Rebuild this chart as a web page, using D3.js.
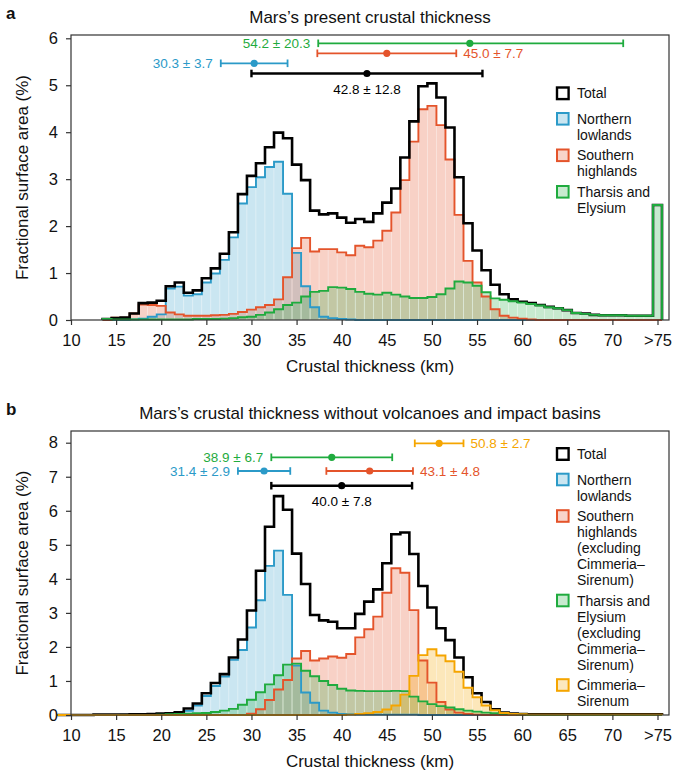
<!DOCTYPE html>
<html>
<head>
<meta charset="utf-8">
<script src="https://cdn.jsdelivr.net/npm/d3@7"></script>
<style>
  body { margin: 0; background: #fff; }
  svg { font-family: "Liberation Sans", Arial, Helvetica, sans-serif; }
</style>
</head>
<body>
<div id="chart"></div>
<script>
// 1 km bins centred on whole km, last bin is ">75"
const xTicks = [10, 15, 20, 25, 30, 35, 40, 45, 50, 55, 60, 65, 70, 75];

// ---- panel a: present crustal thickness (bins 14..75)
const binsA = d3.range(14, 76);
const totalA = [0.02, 0.04, 0.05, 0.14, 0.36, 0.37, 0.41, 0.72, 0.80, 0.58,
  0.63, 0.89, 1.10, 1.41, 1.87, 2.68, 3.07, 3.34, 3.68, 3.99,
  3.87, 3.31, 2.98, 2.33, 2.25, 2.27, 2.18, 2.07, 2.15, 2.09,
  2.27, 2.50, 2.80, 3.46, 4.23, 4.98, 5.04, 4.74, 4.10, 3.04,
  2.06, 1.48, 1.06, 0.75, 0.55, 0.44, 0.39, 0.36, 0.32, 0.28,
  0.25, 0.21, 0.15, 0.14, 0.11, 0.10, 0.10, 0.10, 0.09, 0.09,
  0.09, 2.45];
const northA = [0, 0, 0, 0.01, 0.03, 0.07, 0.12, 0.67, 0.71, 0.52,
  0.55, 0.80, 0.99, 1.28, 1.76, 2.48, 2.83, 3.04, 3.26, 3.37,
  2.69, 1.43, 0.72, 0.27, 0.07, 0.04, 0.02, 0.01, 0, 0,
  0, 0, 0, 0, 0, 0, 0, 0, 0, 0,
  0, 0, 0, 0, 0, 0, 0, 0, 0, 0,
  0, 0, 0, 0, 0, 0, 0, 0, 0, 0,
  0, 0];
const southA = [0, 0.05, 0.05, 0.14, 0.33, 0.32, 0.30, 0.16, 0.12, 0.09,
  0.09, 0.09, 0.10, 0.11, 0.13, 0.17, 0.22, 0.27, 0.32, 0.44,
  0.91, 1.53, 1.75, 1.46, 1.51, 1.51, 1.44, 1.38, 1.58, 1.55,
  1.69, 1.90, 2.29, 2.98, 3.80, 4.49, 4.56, 4.15, 3.42, 2.24,
  1.26, 0.80, 0.50, 0.23, 0.09, 0.05, 0.03, 0.01, 0, 0,
  0, 0, 0, 0, 0, 0, 0, 0, 0, 0,
  0, 0];
const tharsisA = [0.02, 0.01, 0.01, 0.01, 0.01, 0.01, 0.01, 0.01, 0.01, 0.01,
  0.02, 0.02, 0.02, 0.03, 0.04, 0.06, 0.07, 0.11, 0.16, 0.23,
  0.32, 0.37, 0.50, 0.60, 0.62, 0.70, 0.69, 0.66, 0.60, 0.56,
  0.54, 0.58, 0.54, 0.50, 0.47, 0.47, 0.49, 0.55, 0.67, 0.82,
  0.80, 0.73, 0.59, 0.46, 0.43, 0.40, 0.37, 0.34, 0.31, 0.27,
  0.25, 0.21, 0.15, 0.13, 0.11, 0.10, 0.10, 0.10, 0.09, 0.09,
  0.09, 2.45];

// error bars, panel a (order: total, north, south, tharsis)
const errKeysA = ["total", "north", "south", "tharsis"];
const errMeanA = [42.8, 30.3, 45.0, 54.2];
const errSdA = [12.8, 3.7, 7.7, 20.3];
const errLoA = [30.0, 26.6, 37.3, 37.4];
const errHiA = [55.6, 34.0, 52.7, 71.2];

// ---- panel b: without volcanoes and impact basins (bins 9..75)
const binsB = d3.range(9, 76);
const totalB = [0, 0, 0, 0, 0.01, 0.01, 0.01, 0.01, 0.02, 0.02,
  0.03, 0.04, 0.05, 0.08, 0.19, 0.34, 0.64, 0.94, 1.20, 1.69,
  2.22, 3.07, 4.24, 5.53, 6.43, 6.03, 4.74, 3.85, 2.94, 2.78,
  2.74, 2.55, 2.55, 2.97, 3.33, 3.69, 4.46, 5.31, 5.36, 4.73,
  3.79, 3.16, 2.55, 2.20, 1.69, 1.11, 0.64, 0.38, 0.17, 0.07,
  0.04, 0.03, 0.02, 0.02, 0.02, 0.02, 0.02, 0.02, 0.02, 0.02,
  0.02, 0.02, 0.02, 0.02, 0.02, 0.02, 0.02];
const northB = [0, 0, 0, 0, 0, 0, 0, 0.01, 0.01, 0.01,
  0.01, 0.02, 0.03, 0.05, 0.12, 0.28, 0.56, 0.85, 1.13, 1.62,
  1.91, 2.57, 3.37, 4.38, 4.83, 3.53, 1.45, 0.66, 0.36, 0.13,
  0.07, 0.03, 0.02, 0.01, 0.01, 0.01, 0.01, 0.01, 0.01, 0.01,
  0, 0, 0, 0, 0, 0, 0, 0, 0, 0,
  0, 0, 0, 0, 0, 0, 0, 0, 0, 0,
  0, 0, 0, 0, 0, 0, 0];
const southB = [0, 0, 0, 0, 0, 0, 0, 0, 0, 0,
  0, 0, 0, 0, 0, 0, 0, 0, 0, 0,
  0, 0.04, 0.17, 0.44, 0.75, 1.03, 1.66, 1.88, 1.60, 1.66,
  1.72, 1.68, 1.79, 2.28, 2.52, 2.89, 3.59, 4.31, 4.18, 3.08,
  1.60, 0.95, 0.38, 0.16, 0.07, 0.03, 0.01, 0, 0, 0,
  0, 0, 0, 0, 0, 0, 0, 0, 0, 0,
  0, 0, 0, 0, 0, 0, 0];
const tharsisB = [0, 0, 0, 0, 0, 0, 0, 0, 0, 0,
  0, 0.01, 0.02, 0.03, 0.04, 0.05, 0.06, 0.09, 0.13, 0.18,
  0.30, 0.45, 0.67, 0.90, 1.17, 1.48, 1.51, 1.30, 1.14, 1.00,
  0.88, 0.77, 0.72, 0.71, 0.70, 0.70, 0.70, 0.71, 0.70, 0.54,
  0.40, 0.32, 0.26, 0.22, 0.17, 0.13, 0.10, 0.07, 0.05, 0.03,
  0.02, 0.01, 0, 0, 0, 0, 0, 0, 0, 0,
  0, 0, 0, 0, 0, 0, 0];
const cimmeriaB = [0, 0, 0, 0, 0, 0, 0, 0, 0, 0,
  0, 0, 0, 0, 0, 0, 0, 0, 0, 0,
  0, 0, 0, 0, 0, 0, 0, 0, 0, 0,
  0, 0, 0.01, 0.03, 0.05, 0.09, 0.16, 0.28, 0.60, 1.15,
  1.76, 1.93, 1.75, 1.58, 1.27, 0.80, 0.52, 0.28, 0.14, 0.06,
  0.03, 0.02, 0.01, 0.01, 0.01, 0.01, 0.01, 0.01, 0.01, 0.01,
  0.01, 0.01, 0.01, 0.01, 0.01, 0.01, 0.01];

// error bars, panel b (order: total, north, south, tharsis, cimmeria)
const errKeysB = ["total", "north", "south", "tharsis", "cimmeria"];
const errMeanB = [40.0, 31.4, 43.1, 38.9, 50.8];
const errSdB = [7.8, 2.9, 4.8, 6.7, 2.7];
const errLoB = errMeanB.map((m, i) => m - errSdB[i]);
const errHiB = errMeanB.map((m, i) => m + errSdB[i]);

// legend labels
const legendA = [
  ["total", ["Total"]],
  ["north", ["Northern", "lowlands"]],
  ["south", ["Southern", "highlands"]],
  ["tharsis", ["Tharsis and", "Elysium"]]
];
const legendB = [
  ["total", ["Total"]],
  ["north", ["Northern", "lowlands"]],
  ["south", ["Southern", "highlands", "(excluding", "Cimmeria–", "Sirenum)"]],
  ["tharsis", ["Tharsis and", "Elysium", "(excluding", "Cimmeria–", "Sirenum)"]],
  ["cimmeria", ["Cimmeria–", "Sirenum"]]
];

// colours
const col = {
  total: "#000000",
  north: "#2b9ac8",
  south: "#e4542b",
  tharsis: "#1fab3e",
  cimmeria: "#f5a500"
};
const fillOpacity = { north: 0.25, south: 0.27, tharsis: 0.25, cimmeria: 0.27 };

const svg = d3.select("#chart").append("svg")
  .attr("width", 686)
  .attr("height", 773);

const x = d3.scaleLinear().domain([10, 75]).range([71, 657.5]);
const left = 71, right = 669;

function drawPanel(p) {
  const g = svg.append("g");
  const y = d3.scaleLinear().domain([0, p.yMax]).range([p.bottom, p.yTopTick]);

  // fills (one rect per bin, faint white bin edges)
  ["north", "south", "tharsis", "cimmeria"].forEach(key => {
    if (!p.series[key]) return;
    const d = p.bins.map((k, i) => ({ k: k, v: p.series[key][i] })).filter(d => d.v > 0);
    g.append("g").selectAll("rect")
      .data(d)
      .enter().append("rect")
      .attr("x", d => x(d.k - 0.5))
      .attr("width", d => x(d.k + 0.5) - x(d.k - 0.5))
      .attr("y", d => y(d.v))
      .attr("height", d => y(0) - y(d.v))
      .attr("fill", col[key])
      .attr("fill-opacity", fillOpacity[key])
      .attr("stroke", "#fff")
      .attr("stroke-opacity", 0.45)
      .attr("stroke-width", 0.6);
  });

  // step outlines
  const line = d3.line().x(d => x(d[0])).y(d => y(d[1]));
  ["north", "south", "total", "tharsis", "cimmeria"].forEach(key => {
    const vals = p.series[key];
    if (!vals) return;
    const pts = [[p.bins[0] - 0.5, 0]];
    p.bins.forEach((k, i) => { pts.push([k - 0.5, vals[i]]); pts.push([k + 0.5, vals[i]]); });
    pts.push([p.bins[p.bins.length - 1] + 0.5, 0]);
    g.append("path")
      .attr("d", line(pts))
      .attr("fill", "none")
      .attr("stroke", col[key])
      .attr("stroke-width", key === "total" ? 2.6 : 1.9)
      .attr("stroke-linejoin", "miter");
  });

  // frame
  g.append("rect")
    .attr("x", left).attr("y", p.top)
    .attr("width", right - left).attr("height", p.bottom - p.top)
    .attr("fill", "none").attr("stroke", "#333").attr("stroke-width", 1.2);

  // axes
  const ya = g.append("g")
    .attr("transform", `translate(${left},0)`)
    .call(d3.axisLeft(y).tickValues(d3.range(0, p.yMax + 1)).tickSize(5).tickPadding(8)
      .tickFormat(d3.format("d")));
  const xa = g.append("g")
    .attr("transform", `translate(0,${p.bottom})`)
    .call(d3.axisBottom(x).tickValues(xTicks).tickSize(5).tickPadding(9)
      .tickFormat(d => d === 75 ? ">75" : d));
  [ya, xa].forEach(a => {
    a.select(".domain").remove();
    a.selectAll(".tick line").attr("stroke", "#333").attr("stroke-width", 1.2);
    a.selectAll(".tick text").attr("font-size", 16.5).attr("fill", "#111")
      .attr("font-family", "Liberation Sans, Arial, sans-serif");
  });

  // axis titles
  g.append("text")
    .attr("x", (left + right) / 2).attr("y", p.bottom + 52)
    .attr("text-anchor", "middle").attr("font-size", 17).attr("fill", "#111")
    .text("Crustal thickness (km)");
  g.append("text")
    .attr("transform", `translate(28,${(p.top + p.bottom) / 2}) rotate(-90)`)
    .attr("text-anchor", "middle").attr("font-size", 17).attr("fill", "#111")
    .text("Fractional surface area (%)");

  // panel title and letter
  g.append("text")
    .attr("x", 370).attr("y", p.top - 12)
    .attr("text-anchor", "middle").attr("font-size", 17).attr("fill", "#111")
    .text(p.title);
  g.append("text")
    .attr("x", 6).attr("y", p.top - 16)
    .attr("font-size", 17).attr("font-weight", "bold").attr("fill", "#111")
    .text(p.letter);

  // error bars
  const eb = g.append("g");
  p.err.keys.forEach((key, i) => {
    const yy = p.err.y[i];
    const x0 = x(p.err.lo[i]), x1 = x(p.err.hi[i]), xm = x(p.err.mean[i]);
    const w = key === "total" ? 2.4 : 1.8;
    eb.append("line").attr("x1", x0).attr("x2", x1).attr("y1", yy).attr("y2", yy)
      .attr("stroke", col[key]).attr("stroke-width", w);
    [x0, x1].forEach(xc => eb.append("line")
      .attr("x1", xc).attr("x2", xc).attr("y1", yy - 3.8).attr("y2", yy + 3.8)
      .attr("stroke", col[key]).attr("stroke-width", w));
    eb.append("circle").attr("cx", xm).attr("cy", yy).attr("r", 3.6).attr("fill", col[key]);
    const label = p.err.mean[i].toFixed(1) + " ± " + p.err.sd[i].toFixed(1);
    const pos = p.err.pos[i];
    const t = eb.append("text").attr("font-size", 13.5).attr("fill", col[key]).text(label);
    if (pos === "left") t.attr("x", x0 - 8).attr("y", yy + 5).attr("text-anchor", "end");
    else if (pos === "right") t.attr("x", x1 + 7).attr("y", yy + 5).attr("text-anchor", "start");
    else t.attr("x", xm).attr("y", yy + 20).attr("text-anchor", "middle");
  });

  // legend
  const lg = g.append("g");
  let ly = p.legendTop;
  p.legend.forEach(([key, lines], i) => {
    lg.append("rect")
      .attr("x", 557).attr("y", ly - 5.8).attr("width", 11.6).attr("height", 11.6)
      .attr("fill", key === "total" ? "#fff" : col[key])
      .attr("fill-opacity", key === "total" ? 1 : 0.25)
      .attr("stroke", col[key]).attr("stroke-width", key === "total" ? 2.4 : 2);
    lines.forEach((s, j) => lg.append("text")
      .attr("x", 577).attr("y", ly + j * 16 + 5)
      .attr("font-size", 14).attr("fill", "#111").text(s));
    ly += lines.length * 16 + (i === 0 ? 9.5 : 4.5);
  });
}

drawPanel({
  letter: "a",
  title: "Mars’s present crustal thickness",
  top: 35, bottom: 320, yTopTick: 38.3, yMax: 6,
  bins: binsA,
  series: { total: totalA, north: northA, south: southA, tharsis: tharsisA },
  err: { keys: errKeysA, mean: errMeanA, sd: errSdA, lo: errLoA, hi: errHiA,
         y: [73.5, 63.3, 53.3, 43.3], pos: ["below", "left", "right", "left"] },
  legend: legendA, legendTop: 93.3
});

drawPanel({
  letter: "b",
  title: "Mars’s crustal thickness without volcanoes and impact basins",
  top: 431, bottom: 715, yTopTick: 442.7, yMax: 8,
  bins: binsB,
  series: { total: totalB, north: northB, south: southB, tharsis: tharsisB, cimmeria: cimmeriaB },
  err: { keys: errKeysB, mean: errMeanB, sd: errSdB, lo: errLoB, hi: errHiB,
         y: [485.7, 471, 471, 457.3, 443.3], pos: ["below", "left", "right", "left", "right"] },
  legend: legendB, legendTop: 454
});
</script>
</body>
</html>
